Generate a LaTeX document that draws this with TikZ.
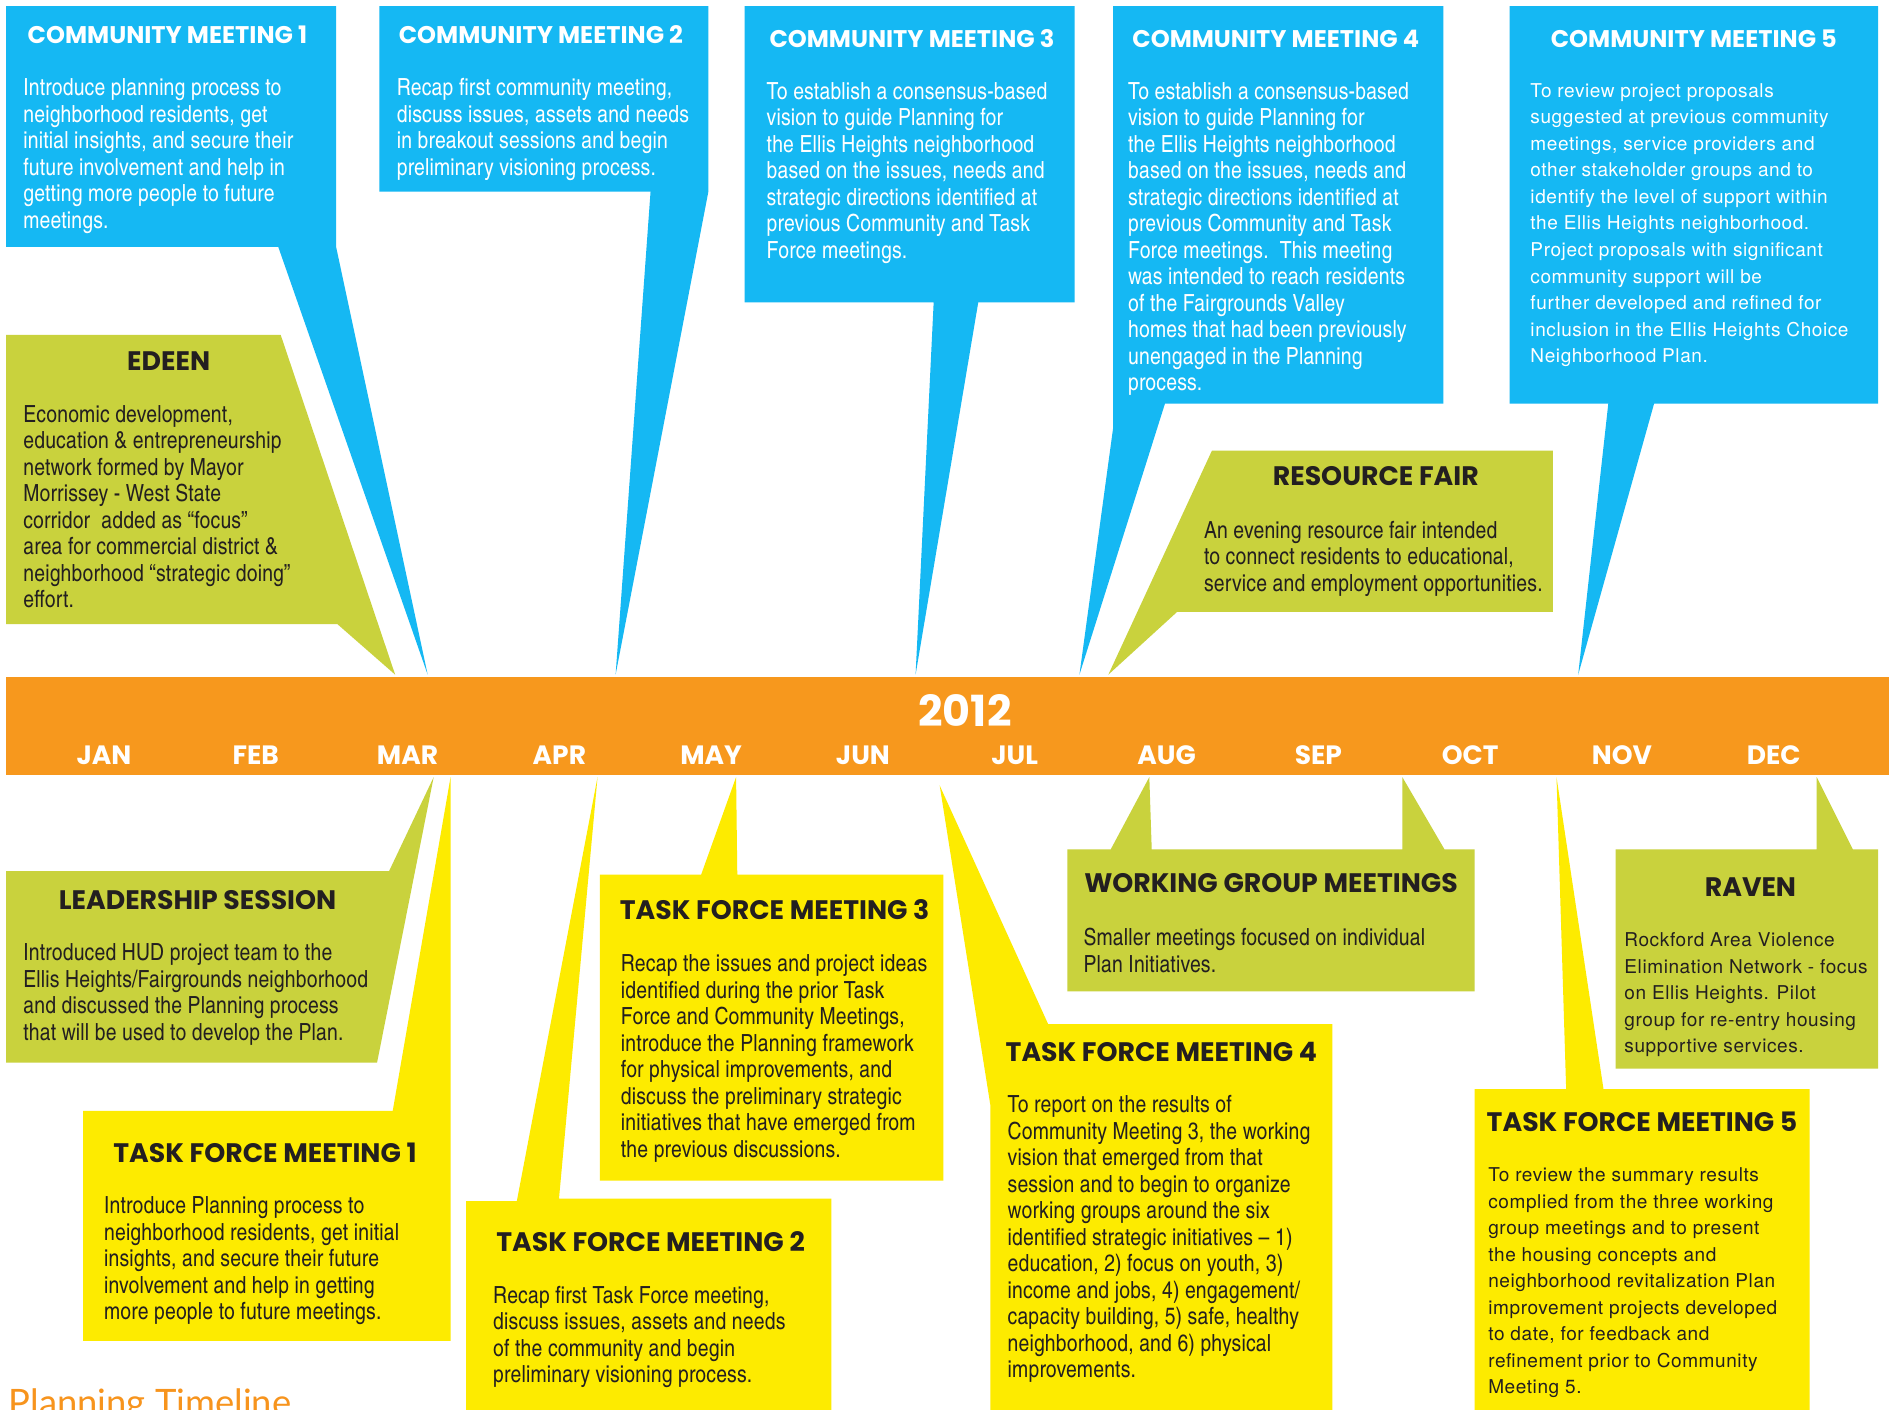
\documentclass[tikz,border=0pt]{standalone}
\usepackage{fontspec}
\setmainfont{TeX Gyre Heros}
\newfontfamily\condfont{texgyreheroscn-regular.otf}[LetterSpace=0.8]
\newfontfamily\widefont{TeX Gyre Heros}[LetterSpace=3]
\newfontfamily\headfont{Poppins}
\newfontfamily\titlefont{Lato}
\usetikzlibrary{positioning}
\definecolor{cmblue}{HTML}{15B8F3}
\definecolor{barorange}{HTML}{F7981D}
\definecolor{leaf}{HTML}{C9D23D}
\definecolor{sun}{HTML}{FDEB00}
\definecolor{ink}{HTML}{231F20}
\definecolor{titleorange}{HTML}{F7941D}
\tikzset{
  cmbox/.style={fill=cmblue},
  leafbox/.style={fill=leaf},
  sunbox/.style={fill=sun},
  head/.style={font=\headfont\bfseries\fontsize{10}{12}\selectfont,inner sep=0pt,text=white},
  headd/.style={head,font=\headfont\bfseries\fontsize{11.1}{13}\selectfont,text=ink},
  body/.style={font=\condfont\fontsize{9.8}{11}\selectfont,align=left,inner sep=0pt,
    anchor=north west,text=white},
  bodyd/.style={body,text=ink},
  % --- wide-set text in the later boxes ---
  wide/.style={body,font=\widefont\fontsize{7.9}{11}\selectfont},
  wided/.style={wide,text=ink},
  month/.style={font=\headfont\bfseries\fontsize{11}{13}\selectfont,text=white,inner sep=0pt},
}
\begin{document}
\begin{tikzpicture}[x=0.5pt,y=-0.5pt]
  \useasboundingbox (0,0) rectangle (1568,1170);
  \clip (0,0) rectangle (1568,1170);
  \fill[white] (0,0) rectangle (1568,1170);
  % community meetings, above the bar
  \fill[cmbox] (5,5) -- (279,5) -- (279,205) -- (355,560) -- (231,205) -- (5,205) -- cycle;
  \fill[cmbox] (315,5) -- (588,5) -- (588,159) -- (511,560) -- (540,159) -- (315,159) -- cycle;
  \fill[cmbox] (618,5) -- (892,5) -- (892,251) -- (812,251) -- (760,560) -- (775,251) -- (618,251) -- cycle;
  \fill[cmbox] (924,5) -- (1198,5) -- (1198,335) -- (967,335) -- (896,560) -- (924,355) -- cycle;
  \fill[cmbox] (1253,5) -- (1559,5) -- (1559,335) -- (1373,335) -- (1310,560) -- (1335,335) -- (1253,335) -- cycle;
  \fill[leafbox] (5,278) -- (233,278) -- (328,560) -- (280,518) -- (5,518) -- cycle;
  \fill[leafbox] (1006,374) -- (1289,374) -- (1289,508) -- (977,508) -- (920,560) -- cycle;
  % task force meetings and the rest, below the bar
  \fill[leafbox] (5,723) -- (323,723) -- (360,645) -- (313,882) -- (5,882) -- cycle;
  \fill[sunbox] (69,922) -- (326,922) -- (374,645) -- (374,1113) -- (69,1113) -- cycle;
  \fill[sunbox] (387,997) -- (429,997) -- (496,645) -- (464,995) -- (690,995) -- (690,1175) -- (387,1175) -- cycle;
  \fill[sunbox] (498,726) -- (582,726) -- (611,645) -- (612,726) -- (783,726) -- (783,980) -- (498,980) -- cycle;
  \fill[sunbox] (822,1175) -- (822,917) -- (780,652) -- (870,850) -- (1106,850) -- (1106,1175) -- cycle;
  \fill[leafbox] (886,705) -- (922,705) -- (954,645) -- (956,705) -- (1164,705) -- (1164,645) -- (1199,705)
    -- (1224,705) -- (1224,823) -- (886,823) -- cycle;
  \fill[leafbox] (1341,705) -- (1508,705) -- (1508,645) -- (1538,705) -- (1559,705) -- (1559,887) -- (1341,887) -- cycle;
  \fill[sunbox] (1224,904) -- (1300,904) -- (1292,645) -- (1331,904) -- (1502,904) -- (1502,1175) -- (1224,1175) -- cycle;
  % the year bar
  \fill[barorange] (5,562) rectangle (1568,643);
  \node[head,font=\headfont\bfseries\fontsize{17.8}{20}\selectfont] (year) at (801,590) {2012};
  \foreach \m [count=\i from 0] in {JAN,FEB,MAR,APR,MAY,JUN,JUL,AUG,SEP,OCT,NOV,DEC}
    \node[month] (m\i) at (86.3+126*\i,627) {\m};

  \node[head] (cm1h) at (139,29) {COMMUNITY MEETING 1};
  \node[body] (cm1t) at (19,65) {Introduce planning process to\\neighborhood residents, get\\initial insights, and secure their\\future involvement and help in\\getting more people to future\\meetings.};
  \node[head] (cm2h) at (449,29) {COMMUNITY MEETING 2};
  \node[body] (cm2t) at (329,65) {Recap first community meeting,\\discuss issues, assets and needs\\in breakout sessions and begin\\preliminary visioning process.};
  \node[head] (cm3h) at (757,32) {COMMUNITY MEETING 3};
  \node[body] (cm3t) at (636,68) {To establish a consensus-based\\vision to guide Planning for\\the Ellis Heights neighborhood\\based on the issues, needs and\\strategic directions identified at\\previous Community and Task\\Force meetings.};
  \node[head] (cm4h) at (1059,32) {COMMUNITY MEETING 4};
  \node[body] (cm4t) at (936,68) {To establish a consensus-based\\vision to guide Planning for\\the Ellis Heights neighborhood\\based on the issues, needs and\\strategic directions identified at\\previous Community and Task\\Force meetings.\ \ This meeting\\was intended to reach residents\\of the Fairgrounds Valley\\homes that had been previously\\unengaged in the Planning\\process.};
  \node[head] (cm5h) at (1406,32) {COMMUNITY MEETING 5};
  \node[wide] (cm5t) at (1270,69) {To review project proposals\\suggested at previous community\\meetings, service providers and\\other stakeholder groups and to\\identify the level of support within\\the Ellis Heights neighborhood.\\Project proposals with significant\\community support will be\\further developed and refined for\\inclusion in the Ellis Heights Choice\\Neighborhood Plan.};

  \node[headd] (edh) at (140,300) {EDEEN};
  \node[bodyd] (edt) at (19,336) {Economic development,\\education \& entrepreneurship\\network formed by Mayor\\Morrissey - West State\\corridor\ \ added as “focus”\\area for commercial district \&\\neighborhood “strategic doing”\\effort.};
  \node[headd] (rfh) at (1142,395) {RESOURCE FAIR};
  \node[bodyd] (rft) at (999,432) {An evening resource fair intended\\to connect residents to educational,\\service and employment opportunities.};

  \node[headd] (lsh) at (164,747) {LEADERSHIP SESSION};
  \node[bodyd] (lst) at (19,783) {Introduced HUD project team to the\\Ellis Heights/Fairgrounds neighborhood\\and discussed the Planning process\\that will be used to develop the Plan.};
  \node[headd] (tf1h) at (220,957) {TASK FORCE MEETING 1};
  \node[bodyd] (tf1t) at (86,993) {Introduce Planning process to\\neighborhood residents, get initial\\insights, and secure their future\\involvement and help in getting\\more people to future meetings.};
  \node[headd] (tf2h) at (540,1031) {TASK FORCE MEETING 2};
  \node[bodyd] (tf2t) at (409,1067) {Recap first Task Force meeting,\\discuss issues, assets and needs\\of the community and begin\\preliminary visioning process.};
  \node[headd] (tf3h) at (643,755) {TASK FORCE MEETING 3};
  \node[bodyd] (tf3t) at (515,792) {Recap the issues and project ideas\\identified during the prior Task\\Force and Community Meetings,\\introduce the Planning framework\\for physical improvements, and\\discuss the preliminary strategic\\initiatives that have emerged from\\the previous discussions.};
  \node[headd] (tf4h) at (964,873) {TASK FORCE MEETING 4};
  \node[bodyd] (tf4t) at (836,909) {To report on the results of\\Community Meeting 3, the working\\vision that emerged from that\\session and to begin to organize\\working groups around the six\\identified strategic initiatives – 1)\\education, 2) focus on youth, 3)\\income and jobs, 4) engagement/\\capacity building, 5) safe, healthy\\neighborhood, and 6) physical\\improvements.};
  \node[headd] (wgh) at (1055,733) {WORKING GROUP MEETINGS};
  \node[bodyd] (wgt) at (899,770) {Smaller meetings focused on individual\\Plan Initiatives.};
  \node[headd] (rvh) at (1453,736) {RAVEN};
  \node[wided] (rvt) at (1348,774) {Rockford Area Violence\\Elimination Network - focus\\on Ellis Heights. Pilot\\group for re-entry housing\\supportive services.};
  \node[headd] (tf5h) at (1363,931) {TASK FORCE MEETING 5};
  \node[wided] (tf5t) at (1235,969) {To review the summary results\\complied from the three working\\group meetings and to present\\the housing concepts and\\neighborhood revitalization Plan\\improvement projects developed\\to date, for feedback and\\refinement prior to Community\\Meeting 5.};

  \node[font=\titlefont\fontsize{15.1}{18}\selectfont,text=titleorange,inner sep=0pt,anchor=north west] (title) at (7,1152) {Planning Timeline};
\end{tikzpicture}
\end{document}
